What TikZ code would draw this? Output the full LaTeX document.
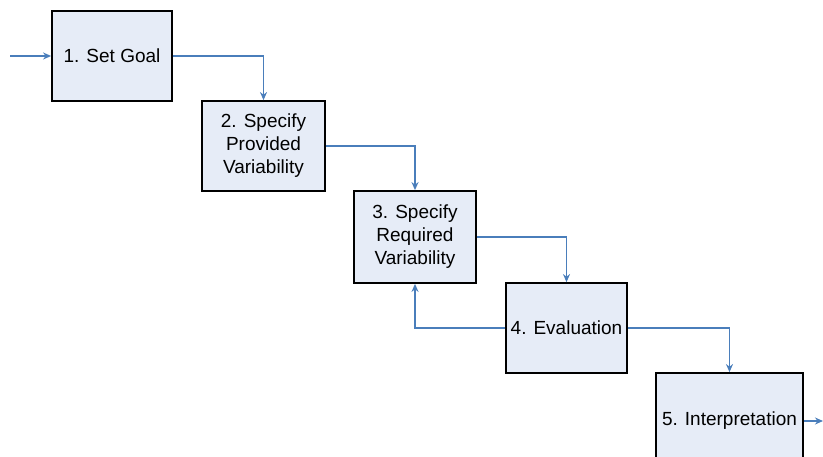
\documentclass[tikz,border=0pt]{standalone}
\usepackage{fontspec}
\setmainfont{Liberation Sans}
\usetikzlibrary{arrows.meta}
\definecolor{boxfill}{HTML}{E6ECF7}
\definecolor{linkblue}{HTML}{4A7EBB}
\begin{document}
\begin{tikzpicture}[x=1pt,y=-1pt,
  stepbox/.style={draw=black,line width=1.8pt,fill=boxfill,rectangle,inner sep=0pt,
    align=center,font=\fontsize{19}{23}\selectfont,minimum height=90pt},
  link/.style={draw=linkblue,line width=1.8pt,-{Stealth[length=8pt,width=7pt]}}]
\useasboundingbox (0,0) rectangle (823,457);
\clip (0,0) rectangle (823,457);
\node[stepbox,minimum width=120pt] (b1) at (112,56) {1. Set Goal};
\node[stepbox,minimum width=123pt] (b2) at (263.5,146) {2. Specify\\Provided\\Variability};
\node[stepbox,minimum width=122pt,minimum height=92pt] (b3) at (415,237) {3. Specify\\Required\\Variability};
\node[stepbox,minimum width=121pt] (b4) at (566.5,328) {4. Evaluation};
\node[stepbox,minimum width=147pt,minimum height=96pt] (b5) at (729.5,421) {5. Interpretation};
\coordinate (in) at (10,56);
\coordinate (out) at (823,421);
\draw[link] (in) -- (b1.west);
\draw[link] (b1.east) -| (b2.north);
\draw[link] (b2.east) -| (b3.north);
\draw[link] (b3.east) -| (b4.north);
\draw[link] (b4.west) -| (b3.south);
\draw[link] (b4.east) -| (b5.north);
\draw[link] (b5.east) -- (out);
\end{tikzpicture}
\end{document}
